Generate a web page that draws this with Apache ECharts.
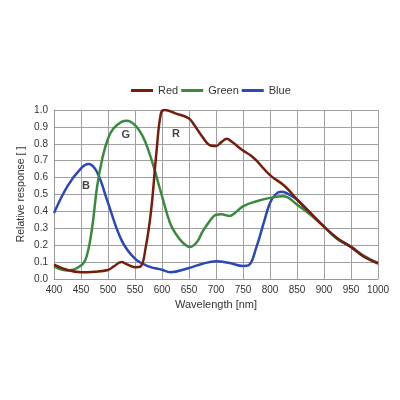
<!DOCTYPE html>
<html><head><meta charset="utf-8">
<script src="https://cdn.jsdelivr.net/npm/echarts@6/dist/echarts.min.js"></script>
<style>html,body{margin:0;padding:0;background:#fff}#c{width:400px;height:400px}</style>
</head><body><div id="c"></div>
<script>
var redX = [400,425,450,475,500,510,525,535,550,560,570,580,590,598,605,625,650,660,675,690,700,710,720,730,750,765,775,800,825,840,850,875,900,925,950,975,1000];
var redY = [0.085,0.053,0.04,0.043,0.053,0.073,0.1,0.087,0.07,0.073,0.19,0.41,0.76,0.98,1.0,0.98,0.95,0.91,0.84,0.79,0.787,0.81,0.83,0.81,0.76,0.73,0.70,0.615,0.556,0.507,0.47,0.39,0.31,0.24,0.19,0.13,0.093];
var greenX = [400,425,450,460,470,480,490,500,510,525,535,550,565,575,585,600,615,625,640,652,665,675,690,700,710,725,735,750,775,800,825,850,875,900,925,950,975,1000];
var greenY = [0.075,0.05,0.08,0.13,0.29,0.55,0.72,0.83,0.89,0.93,0.937,0.91,0.84,0.76,0.66,0.49,0.33,0.27,0.21,0.19,0.22,0.28,0.35,0.38,0.383,0.373,0.39,0.43,0.46,0.48,0.49,0.44,0.38,0.31,0.235,0.19,0.135,0.093];
var blueX = [400,425,450,464,480,500,525,550,575,600,615,650,675,700,725,750,760,775,790,800,810,820,830,850,860,875,900,925,950,975,1000];
var blueY = [0.39,0.55,0.655,0.68,0.63,0.45,0.23,0.12,0.075,0.055,0.04,0.065,0.09,0.105,0.095,0.077,0.08,0.19,0.35,0.45,0.5,0.517,0.51,0.47,0.44,0.39,0.31,0.24,0.19,0.13,0.093];
var seriesNames = ['Red','Green','Blue'];
var seriesColors = ['#761d0e','#3a8a3e','#2c48b8'];
var curveLabels = [['B',459,0.55],['G',533,0.85],['R',626,0.86]];

function pairs(xs, ys){ return xs.map(function(x,i){ return [x, ys[i]]; }); }
var xs = [redX, greenX, blueX], ys = [redY, greenY, blueY];
var font = 'Liberation Sans, Arial, sans-serif';
var series = seriesNames.map(function(n,i){
  return {name:n, type:'line', smooth:0.4, showSymbol:false, symbol:'none',
    data:pairs(xs[i], ys[i]), lineStyle:{width:2.5, color:seriesColors[i]}, itemStyle:{color:seriesColors[i]}, z: 3-i};
});
series.push({type:'scatter', symbolSize:0, silent:true, data:curveLabels.map(function(l){return {value:[l[1],l[2]], name:l[0]};}),
  label:{show:true, position:'inside', formatter:function(p){return p.name;}, fontFamily:font, fontSize:11, fontWeight:'bold', color:'#111'}});

var chart = echarts.init(document.getElementById('c'));
chart.setOption({
  animation:false,
  legend:{data:seriesNames, top:80, left:126, itemWidth:22, itemHeight:3, itemGap:3, icon:'rect',
    textStyle:{fontFamily:font, fontSize:11, color:'#333'}},
  grid:{left:54, right:22, top:110, bottom:121},
  xAxis:{type:'value', min:400, max:1000, interval:50, name:'Wavelength [nm]', nameLocation:'middle', nameGap:20, nameMoveOverlap:false,
    nameTextStyle:{fontFamily:font, fontSize:11, color:'#333'},
    axisLine:{show:true, lineStyle:{color:'#999'}}, axisTick:{show:false},
    axisLabel:{fontFamily:font, fontSize:10, color:'#333', margin:6, formatter:function(v){return String(v);}},
    splitLine:{show:true, lineStyle:{color:'#a0a0a0', width:1}}},
  yAxis:{type:'value', min:0, max:1.0, interval:0.1, name:'Relative response [ ]', nameLocation:'middle', nameGap:27, nameRotate:90, nameMoveOverlap:false,
    nameTextStyle:{fontFamily:font, fontSize:10.5, color:'#333'},
    axisLine:{show:true, lineStyle:{color:'#999'}}, axisTick:{show:false},
    axisLabel:{fontFamily:font, fontSize:10, color:'#333', margin:6, formatter:function(v){return v.toFixed(1);}},
    splitLine:{show:true, lineStyle:{color:'#a0a0a0', width:1}}},
  series:series
});
</script></body></html>
